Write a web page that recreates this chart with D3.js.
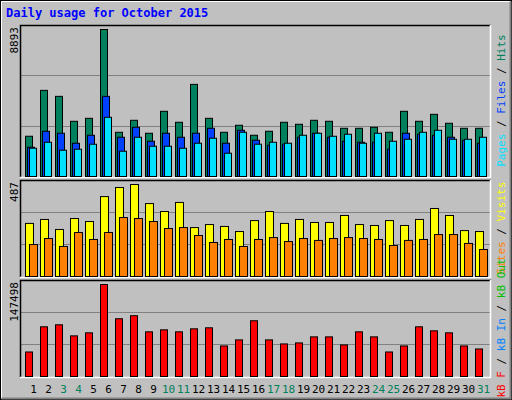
<!DOCTYPE html>
<html><head><meta charset="utf-8">
<script src="https://cdn.jsdelivr.net/npm/d3@7"></script>
<style>body{margin:0;background:#fff}text{font-family:"DejaVu Sans Mono",monospace}</style>
</head><body><svg id="chart" width="512" height="400"></svg>
<script>
var days = d3.range(1, 32);
var weekend = [3, 4, 10, 11, 17, 18, 24, 25, 31];
var hits = [2435,5211,4849,3340,3521,8893,2676,3400,2616,3944,3280,5573,3521,2676,3099,2495,2736,3280,3159,3400,3340,2917,2917,2978,2676,3944,3340,3762,3219,2917,2917];
var files = [1771,2736,2616,2012,2495,4849,2374,2978,2133,2616,2374,2616,2917,2012,2797,2193,1891,1952,2374,2616,2374,2133,2072,2072,1650,2616,2555,2495,2374,2193,2012];
var pages = [1710,2072,1589,1650,1952,3581,1529,2374,1831,1831,1710,2012,2314,1408,2676,1952,2072,2012,2495,2616,2435,2555,2012,2616,2133,2253,2676,2797,2253,2253,2374];
var visits = [281,302,249,307,291,423,471,487,386,344,392,259,275,265,238,296,344,281,302,286,286,323,275,270,296,270,302,360,323,243,238];
var sites = [169,201,159,233,196,233,312,307,291,254,259,217,180,196,159,196,206,185,201,191,201,206,201,196,164,191,196,222,222,175,143];
var kbytes = [39297,79668,82898,65134,69979,147498,92588,97432,71594,74824,71594,76439,78054,48985,58675,89358,58675,52215,53830,63519,63519,50600,71594,63519,39297,48985,79668,73209,69979,48985,44141];

var svg = d3.select("#chart");
// background and bevelled frame
svg.append("rect").attr("width", 512).attr("height", 400).attr("fill", "#c0c0c0");
svg.append("rect").attr("x", 0.5).attr("y", 0.5).attr("width", 511).attr("height", 399).attr("fill", "none").attr("stroke", "#000");
svg.append("path").attr("d", "M1.5,398.5V1.5H510.5").attr("fill", "none").attr("stroke", "#fff");
svg.append("path").attr("d", "M1.5,398.5H510.5V1.5").attr("fill", "none").attr("stroke", "#808080").attr("stroke-width", 2);

svg.append("text").attr("x", 6).attr("y", 17).attr("fill", "#0000ff")
    .attr("font-size", 12).attr("font-weight", "bold").text("Daily usage for October 2015");

var x = d3.scaleBand().domain(days).range([23, 488]);

function panel(top, bottom, maxVal, label, series, legend) {
    var y = d3.scaleLinear().domain([0, maxVal]).range([bottom, top + 4]);
    var g = svg.append("g");
    var h = bottom - top;
    [1, 2].forEach(function (k) {
        g.append("line").attr("x1", 20).attr("x2", 491)
            .attr("y1", Math.round(bottom - h * k / 3) + 0.5).attr("y2", Math.round(bottom - h * k / 3) + 0.5)
            .attr("stroke", "#808080");
    });
    g.append("path").attr("d", "M20.5," + (bottom + 1) + "V" + (top + 0.5) + "H491")
        .attr("fill", "none").attr("stroke", "#000").attr("stroke-width", 1.5);
    g.append("path").attr("d", "M20," + (bottom + 1.5) + "H490.5V" + top)
        .attr("fill", "none").attr("stroke", "#fff").attr("stroke-width", 1.5);
    series.forEach(function (s) {
        g.selectAll(null).data(s.values).enter().append("rect")
            .attr("x", function (d, i) { return x(days[i]) + s.off + 0.5; })
            .attr("y", function (d) { return y(d) + 0.5; })
            .attr("width", s.w)
            .attr("height", function (d) { return bottom - y(d); })
            .attr("fill", s.color).attr("stroke", "#000");
    });
    var cy = (top + bottom) / 2;
    g.append("text").attr("transform", "translate(18," + (top + 2) + ") rotate(-90)")
        .attr("text-anchor", "end").attr("font-size", 11).attr("fill", "#000").text(label);
    var t = g.append("text").attr("transform", "translate(505," + cy + ") rotate(-90)")
        .attr("text-anchor", "middle").attr("font-size", 11);
    legend.forEach(function (l, i) {
        if (i > 0) t.append("tspan").attr("fill", "#000").text(" / ");
        t.append("tspan").attr("fill", l[1]).text(l[0]);
    });
}

panel(25, 176, 8893, "8893", [
    { values: hits, color: "#00805c", off: 2, w: 7 },
    { values: files, color: "#0040ff", off: 4, w: 7 },
    { values: pages, color: "#00e0ff", off: 6, w: 7 }
], [["Pages", "#00e0ff"], ["Files", "#0040ff"], ["Hits", "#00805c"]]);

panel(180, 276, 487, "487", [
    { values: visits, color: "#ffff00", off: 2, w: 8 },
    { values: sites, color: "#ff8000", off: 6, w: 8 }
], [["Sites", "#ff8000"], ["Visits", "#ffff00"]]);

panel(280, 376, 147498, "147498", [
    { values: kbytes, color: "#ff0000", off: 2, w: 7 }
], [["kB F", "#ff0000"], ["kB In", "#0080ff"], ["kB Out", "#00c000"]]);

svg.selectAll(null).data(days).enter().append("text")
    .attr("x", function (d) { return x(d) + x.bandwidth() / 2 + 3; })
    .attr("y", 393).attr("text-anchor", "middle").attr("font-size", 11)
    .attr("fill", function (d) { return weekend.indexOf(d) >= 0 ? "#00805c" : "#000"; })
    .text(function (d) { return d; });
</script></body></html>
